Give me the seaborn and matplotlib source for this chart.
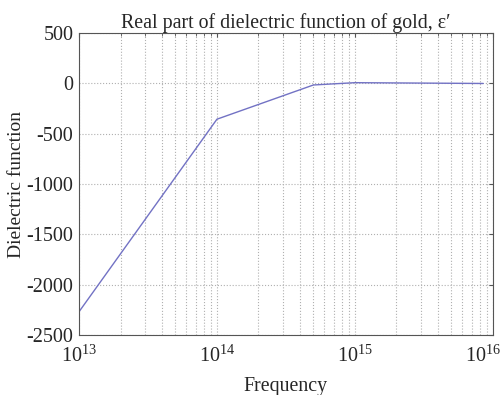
import numpy as np
import pandas as pd
import matplotlib
matplotlib.use("Agg")
import matplotlib.pyplot as plt
import matplotlib.transforms as mtransforms
import seaborn as sns
from matplotlib.ticker import LogLocator

# Data
frequency = [1e13, 1e14, 5e14, 1e15, 8.5e15]
epsilon_real = [-2270, -355, -15, 8, 0]
x_ticks = [1e13, 1e14, 1e15, 1e16]
y_ticks = [500, 0, -500, -1000, -1500, -2000, -2500]

sns.set_style("white")
plt.rcParams['font.family'] = ['Liberation Serif', 'DejaVu Serif']
plt.rcParams['mathtext.fontset'] = 'custom'
plt.rcParams['mathtext.rm'] = 'Liberation Serif'
plt.rcParams['axes.unicode_minus'] = False

df = pd.DataFrame({'frequency': frequency, 'eps': epsilon_real})

fig = plt.figure(figsize=(5.03, 3.95), dpi=100)
ax = fig.add_axes([0.157, 0.152, 0.823, 0.764])
sns.lineplot(data=df, x='frequency', y='eps', ax=ax, color='#7272c4', linewidth=1.0)

ax.set_xscale('log')
ax.set_xlim(1e13, 1e16)
ax.set_ylim(-2500, 500)
ax.set_xticks(x_ticks)
ax.set_yticks(y_ticks)
ax.xaxis.set_minor_locator(LogLocator(base=10, subs=np.arange(2, 10), numticks=100))

ax.grid(True, which='both', axis='x', linestyle=':', color='#b0b0b0', linewidth=0.8)
ax.grid(True, which='major', axis='y', linestyle=':', color='#b0b0b0', linewidth=0.8)

for s in ax.spines.values():
    s.set_color('#555555')
    s.set_linewidth(0.8)
ax.tick_params(axis='both', which='both', direction='in', labelsize=14.5, color='#555555',
               top=True, right=True, length=3)
ax.tick_params(axis='x', which='minor', length=2)
ax.tick_params(axis='x', which='major', pad=8)
ax.tick_params(axis='y', which='major', pad=4)

# last x label is pulled inside the figure, like the reference
last = ax.xaxis.get_major_ticks()[-1].label1
last.set_transform(last.get_transform() +
                   mtransforms.ScaledTranslation(-10 / 100, 0, fig.dpi_scale_trans))

ax.set_title("Real part of dielectric function of gold, ε′", fontsize=14.3, pad=4)
ax.set_xlabel('Frequency', fontsize=14.3, labelpad=7)
ax.set_ylabel('Dielectric function', fontsize=14, labelpad=1)

fig.savefig('out.png', dpi=100)
